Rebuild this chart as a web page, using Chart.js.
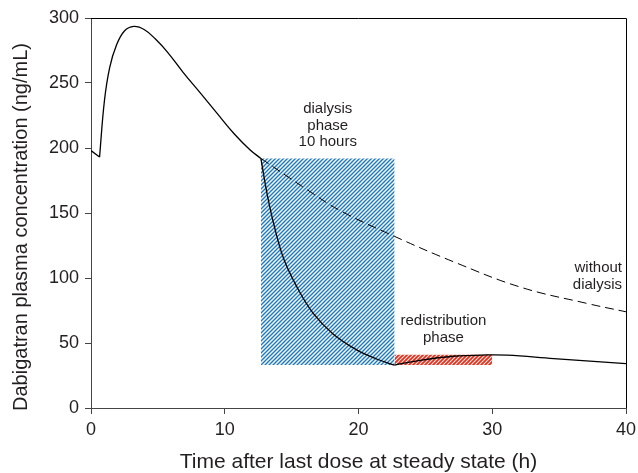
<!DOCTYPE html>
<html>
<head>
<meta charset="utf-8">
<script src="https://cdn.jsdelivr.net/npm/chart.js@4.4.1/dist/chart.umd.min.js"></script>
<style>
html,body{margin:0;padding:0;background:#fff;}
#wrap{width:638px;height:473px;}
</style>
</head>
<body>
<div id="wrap"><canvas id="c" width="638" height="473"></canvas></div>
<script>
// ---- data (hours, ng/mL) ----
const startT = [0, 0.64];
const startV = [198, 193];
const preT = [0.64, 1.0, 1.4, 1.9, 2.5, 3.2, 4.0, 4.8, 5.7, 6.9, 8.2, 9.4, 10.7, 11.9, 12.7];
const preV = [193, 236, 262, 279, 290, 293.5, 291, 284, 274, 258, 242, 227, 211, 198.5, 192];
const dialT = [12.7, 13.2, 13.7, 14.4, 15.4, 16.6, 18.1, 19.9, 21.4, 22.7];
const dialV = [192, 163, 140, 115, 93, 73, 57, 44.5, 37.5, 33];
const postT = [22.7, 24.6, 27.1, 29.6, 31.1, 34.6, 40];
const postV = [33, 36.7, 39.8, 40.8, 40.6, 38, 34.2];
const noDialT = [12.7, 16.15, 18.6, 22.7, 27.1, 32.1, 37.1, 40];
const noDialV = [192, 168, 152, 132, 112.5, 93, 80.4, 74];
// phases: [start, end] in h, [low, high] in ng/mL
const dialysisPhaseT = [12.7, 22.7];
const dialysisPhaseV = [33, 192];
const redistPhaseT = [22.7, 30];
const redistPhaseV = [33, 41];
// tick labels
const xTicks = [0, 10, 20, 30, 40];
const yTicks = [0, 50, 100, 150, 200, 250, 300];
// annotations: text lines, anchor (h, ng/mL)
const notes = [
  {lines: ['dialysis', 'phase', '10 hours'], t: 17.7, v: 230, align: 'center'},
  {lines: ['redistribution', 'phase'], t: 26.35, v: 67, align: 'center'},
  {lines: ['without', 'dialysis'], t: 39.7, v: 107.6, align: 'right'}
];
const yTitle = 'Dabigatran plasma concentration (ng/mL)';
const xTitle = 'Time after last dose at steady state (h)';

const pts = (ts, vs) => ts.map((t, i) => ({x: t, y: vs[i]}));
const ctxMain = document.getElementById('c').getContext('2d');
function hatch(bg, stripe, w) {
  const c = document.createElement('canvas');
  c.width = 4; c.height = 4;
  const g = c.getContext('2d');
  g.fillStyle = bg; g.fillRect(0, 0, 4, 4);
  g.strokeStyle = stripe; g.lineWidth = w;
  g.beginPath();
  g.moveTo(-1, 5); g.lineTo(5, -1);
  g.moveTo(-1, 1); g.lineTo(1, -1);
  g.moveTo(3, 5); g.lineTo(5, 3);
  g.stroke();
  return ctxMain.createPattern(c, 'repeat');
}
const FONT = "'Liberation Sans', Arial, Helvetica, sans-serif";
const TXT = '#231f20';
const line = (data, extra) => Object.assign({
  data, borderColor: '#000', borderWidth: 1.3, pointRadius: 0, fill: false,
  tension: 0.4, order: 0
}, extra || {});
const box = (ts, vs, pattern) => ({
  data: [{x: ts[0], y: vs[1]}, {x: ts[1], y: vs[1]}],
  borderWidth: 0, borderColor: 'rgba(0,0,0,0)', pointRadius: 0,
  backgroundColor: pattern, fill: {value: vs[0]}, order: 10
});

const framePlugin = {
  id: 'frame',
  afterDatasetsDraw(chart) {
    const {ctx, chartArea: a} = chart;
    ctx.save();
    ctx.strokeStyle = '#000'; ctx.lineWidth = 1;
    ctx.beginPath();
    ctx.moveTo(a.left, Math.round(a.top) + 0.5);
    ctx.lineTo(Math.round(a.right) + 0.5, Math.round(a.top) + 0.5);
    ctx.lineTo(Math.round(a.right) + 0.5, a.bottom);
    ctx.stroke();
    ctx.restore();
  }
};
const notePlugin = {
  id: 'notes',
  afterDatasetsDraw(chart) {
    const {ctx, scales} = chart;
    ctx.save();
    ctx.fillStyle = TXT;
    ctx.font = '15px ' + FONT;
    ctx.textBaseline = 'middle';
    notes.forEach(n => {
      const x = scales.x.getPixelForValue(n.t);
      const y = scales.y.getPixelForValue(n.v);
      ctx.textAlign = n.align;
      n.lines.forEach((s, i) => ctx.fillText(s, x, y + i * 16.5));
    });
    // y axis title
    ctx.font = '20px ' + FONT;
    ctx.textAlign = 'center';
    ctx.translate(21, 227);
    ctx.rotate(-Math.PI / 2);
    ctx.fillText(yTitle, 0, 0);
    ctx.restore();
  }
};

new Chart(ctxMain, {
  type: 'scatter',
  data: {
    datasets: [
      line(pts(startT, startV), {tension: 0}),
      line(pts(preT, preV)),
      line(pts(dialT, dialV)),
      line(pts(postT, postV)),
      line(pts(noDialT, noDialV), {borderDash: [9, 5], borderWidth: 1}),
      box(dialysisPhaseT, dialysisPhaseV, hatch('#1f78bb', '#f2f8fc', 1.5)),
      box(redistPhaseT, redistPhaseV, hatch('#e02f1b', '#fbe9e6', 1.1))
    ]
  },
  options: {
    responsive: false,
    animation: false,
    showLine: true,
    layout: {padding: {left: 0, top: 18, right: 12, bottom: 0}},
    plugins: {legend: {display: false}, tooltip: {enabled: false}},
    scales: {
      x: {
        type: 'linear', min: 0, max: 40,
        afterBuildTicks: s => { s.ticks = xTicks.map(v => ({value: v})); },
        afterFit: s => { s.height = 65; s.paddingRight = 0; s.paddingLeft = 0; },
        grid: {display: true, drawOnChartArea: false, drawTicks: true, tickLength: 6, color: '#444'},
        border: {display: true, color: '#444', width: 1},
        ticks: {color: TXT, font: {family: FONT, size: 18}, padding: 5, maxRotation: 0},
        title: {display: true, text: xTitle, color: TXT,
                font: {family: FONT, size: 21}, padding: {top: 0, bottom: -2}}
      },
      y: {
        type: 'linear', min: 0, max: 300,
        afterBuildTicks: s => { s.ticks = yTicks.map(v => ({value: v})); },
        afterFit: s => { s.width = 91; s.paddingTop = 0; s.paddingBottom = 0; },
        grid: {display: true, drawOnChartArea: false, drawTicks: true, tickLength: 6, color: '#444'},
        border: {display: true, color: '#444', width: 1},
        ticks: {color: TXT, font: {family: FONT, size: 18}, padding: 6},
        title: {display: false}
      }
    }
  },
  plugins: [framePlugin, notePlugin]
});
</script>
</body>
</html>
